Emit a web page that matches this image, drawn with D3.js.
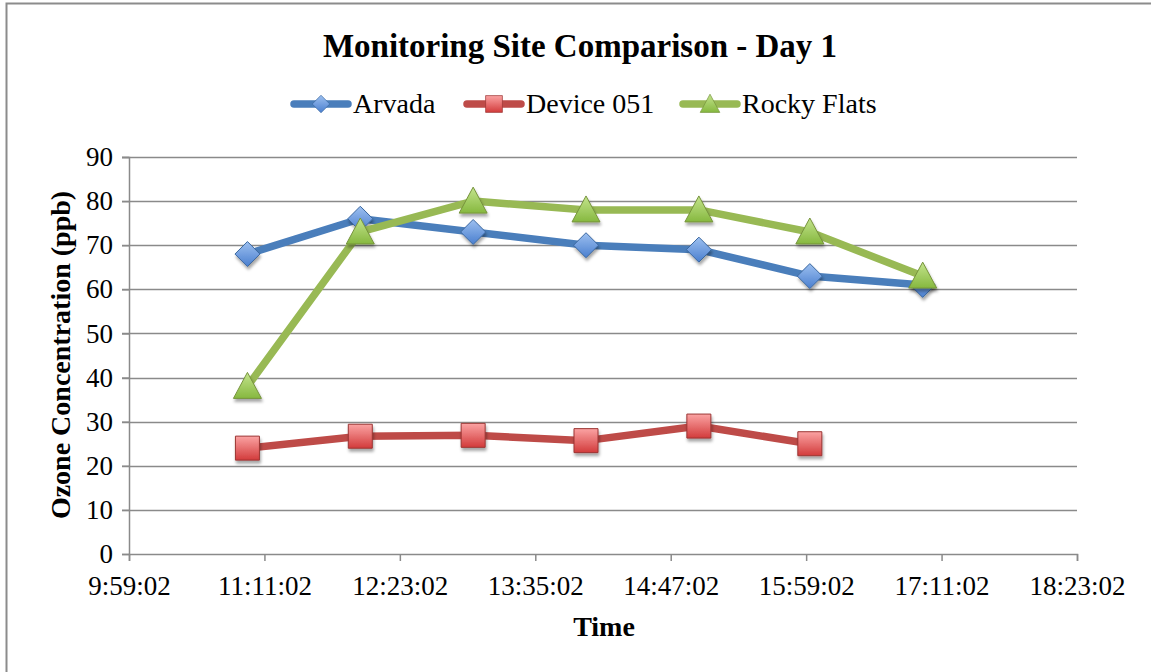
<!DOCTYPE html>
<html>
<head>
<meta charset="utf-8">
<script src="https://cdn.jsdelivr.net/npm/d3@7"></script>
<style>
  body { margin: 0; background: #fff; }
  text { font-family: "Liberation Serif", "DejaVu Serif", serif; fill: #000; }
</style>
</head>
<body>
<div id="chart"></div>
<script>
// 資料
const seriesNames = ["Arvada", "Device 051", "Rocky Flats"];
const times = ["11:02:00", "12:02:00", "13:02:00", "14:02:00", "15:02:00", "16:01:00", "17:01:00"];
const arvada = [68, 76, 73, 70, 69, 63, 61];
const device051 = [24, 26.7, 26.9, 25.7, 29, 25];
const rockyFlats = [38, 73, 80, 78, 78, 73, 63];
const xTickLabels = ["9:59:02", "11:11:02", "12:23:02", "13:35:02", "14:47:02", "15:59:02", "17:11:02", "18:23:02"];
const yTicks = [0, 10, 20, 30, 40, 50, 60, 70, 80, 90];

const W = 1151, H = 672;
const plot = {left: 129, right: 1077, top: 157, bottom: 554};

const parse = d3.timeParse("%H:%M:%S");
const fmt = d3.timeFormat("%-H:%M:%S");

const svg = d3.select("#chart").append("svg")
    .attr("width", W)
    .attr("height", H);

// 外框
svg.append("rect")
    .attr("x", 6.5).attr("y", 3.5)
    .attr("width", W + 10).attr("height", H + 10)
    .attr("fill", "#fff")
    .attr("stroke", "#8c8c8c")
    .attr("stroke-width", 2);

const defs = svg.append("defs");
const shadow = defs.append("filter").attr("id", "shadow")
    .attr("x", "-50%").attr("y", "-50%").attr("width", "200%").attr("height", "200%");
shadow.append("feDropShadow")
    .attr("dx", 1).attr("dy", 3).attr("stdDeviation", 1.8)
    .attr("flood-color", "#000").attr("flood-opacity", 0.35);

function grad(id, c1, c2) {
  const g = defs.append("linearGradient").attr("id", id)
      .attr("x1", 0).attr("y1", 0).attr("x2", 0).attr("y2", 1);
  g.append("stop").attr("offset", "0%").attr("stop-color", c1);
  g.append("stop").attr("offset", "100%").attr("stop-color", c2);
}
grad("gBlue", "#9dc0f0", "#4a7fcf");
grad("gRed", "#fba3a3", "#d23b3b");
grad("gGreen", "#c4e48d", "#86b83f");

const series = [
  {name: seriesNames[0], values: arvada, line: "#4a7ebb", fill: "url(#gBlue)", stroke: "#3a679f", symbol: "diamond"},
  {name: seriesNames[1], values: device051, line: "#be4b48", fill: "url(#gRed)", stroke: "#9b3533", symbol: "square"},
  {name: seriesNames[2], values: rockyFlats, line: "#98b954", fill: "url(#gGreen)", stroke: "#76933c", symbol: "triangle"}
];

const x = d3.scaleTime()
    .domain([parse(xTickLabels[0]), parse(xTickLabels[xTickLabels.length - 1])])
    .range([plot.left, plot.right]);
const y = d3.scaleLinear()
    .domain([0, 90])
    .range([plot.bottom, plot.top]);

// 格線
svg.append("g")
    .selectAll("line")
    .data(yTicks.slice(1))
    .join("line")
    .attr("x1", plot.left - 7).attr("x2", plot.right)
    .attr("y1", d => Math.round(y(d)) + 0.5).attr("y2", d => Math.round(y(d)) + 0.5)
    .attr("stroke", "#8a8a8a")
    .attr("stroke-width", 1.5);

// Y 軸
const yAxis = svg.append("g")
    .attr("transform", `translate(${plot.left},0)`)
    .call(d3.axisLeft(y).tickValues(yTicks).tickSize(7).tickPadding(9));
yAxis.select(".domain").attr("stroke", "#8a8a8a").attr("stroke-width", 1.5);
yAxis.selectAll(".tick line").attr("stroke", "#8a8a8a").attr("stroke-width", 1.5);
yAxis.selectAll(".tick text")
    .style("font-family", "Liberation Serif, serif")
    .style("font-size", "27px").attr("fill", "#000");

// X 軸
const xAxis = svg.append("g")
    .attr("transform", `translate(0,${plot.bottom})`)
    .call(d3.axisBottom(x).tickValues(xTickLabels.map(parse)).tickFormat(fmt).tickSize(7).tickPadding(15));
xAxis.select(".domain").attr("stroke", "#8a8a8a").attr("stroke-width", 1.5);
xAxis.selectAll(".tick line").attr("stroke", "#8a8a8a").attr("stroke-width", 1.5);
xAxis.selectAll(".tick text")
    .style("font-family", "Liberation Serif, serif")
    .style("font-size", "27px").attr("fill", "#000");

// 標記圖形
function markerPath(type) {
  if (type === "diamond") return "M0,-12.5L12.5,0L0,12.5L-12.5,0Z";
  if (type === "square") return "M-12,-12H12V12H-12Z";
  return "M0,-14L14,12H-14Z";
}

const line = d3.line()
    .x((d, i) => x(parse(times[i])))
    .y(d => y(d));

series.forEach(s => {
  svg.append("path")
      .datum(s.values)
      .attr("d", (d) => line(d))
      .attr("fill", "none")
      .attr("stroke", s.line)
      .attr("stroke-width", 7.5)
      .attr("stroke-linejoin", "round")
      .attr("stroke-linecap", "round");
  svg.append("g")
      .selectAll("path")
      .data(s.values)
      .join("path")
      .attr("transform", (d, i) => `translate(${x(parse(times[i]))},${y(d)})`)
      .attr("d", markerPath(s.symbol))
      .attr("fill", s.fill)
      .attr("stroke", s.stroke)
      .attr("stroke-width", 1)
      .attr("filter", "url(#shadow)");
});

// 標題
svg.append("text")
    .attr("x", 580).attr("y", 57)
    .attr("text-anchor", "middle")
    .style("font-size", "33px").style("font-weight", "bold")
    .text("Monitoring Site Comparison - Day 1");

// 圖例
const legendX = [291, 464, 680];
const legend = svg.append("g");
series.forEach((s, i) => {
  const g = legend.append("g").attr("transform", `translate(${legendX[i]},104)`);
  g.append("line")
      .attr("x1", 3).attr("x2", 57)
      .attr("stroke", s.line).attr("stroke-width", 7.5).attr("stroke-linecap", "round");
  g.append("path")
      .attr("transform", "translate(30,0) scale(0.7)")
      .attr("d", markerPath(s.symbol))
      .attr("fill", s.fill).attr("stroke", s.stroke).attr("stroke-width", 1);
  g.append("text")
      .attr("x", 62).attr("y", 9)
      .style("font-size", "28px")
      .text(s.name);
});

// 軸標題
svg.append("text")
    .attr("x", 604).attr("y", 636)
    .attr("text-anchor", "middle")
    .style("font-size", "28px").style("font-weight", "bold")
    .text("Time");
svg.append("text")
    .attr("transform", `translate(70,355) rotate(-90)`)
    .attr("text-anchor", "middle")
    .style("font-size", "28px").style("font-weight", "bold")
    .text("Ozone Concentration (ppb)");
</script>
</body>
</html>
